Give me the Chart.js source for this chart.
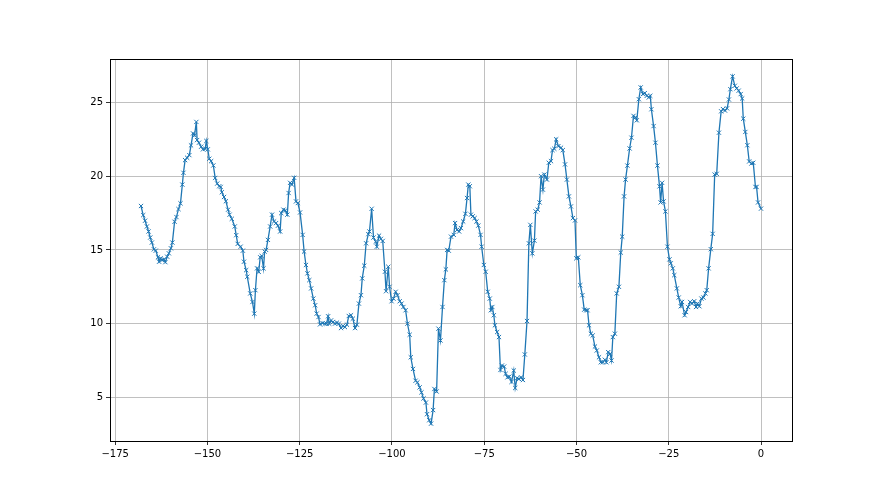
<!DOCTYPE html>
<html>
<head>
<meta charset="utf-8">
<script src="https://cdn.jsdelivr.net/npm/chart.js@4/dist/chart.umd.min.js"></script>
<style>
html,body{margin:0;padding:0;background:#fff;}
#wrap{width:880px;height:495px;}
</style>
</head>
<body>
<div id="wrap"><canvas id="c" width="880" height="495"></canvas></div>
<script>
const xValues = [
-168,-167.4,-166.9,-166.4,-165.95,-165.5,-165.05,-164.5,-164.0,-163.4,-163.1,-162.7,-162.35,-161.8,-161.4,-160.9,-160.45,-159.9,-159.5,-158.9,
-158.4,-157.85,-157.3,-156.8,-156.5,-156.05,-155.5,-154.9,-154.45,-153.9,-153.5,-153.0,-152.8,-152.3,-151.7,-151.2,-150.6,-150.3,-149.9,-149.5,
-149.0,-148.4,-147.9,-147.35,-146.8,-146.4,-146.1,-145.5,-145.0,-144.4,-144.0,-143.4,-142.6,-142.2,-141.8,-141.0,-140.4,-140.1,-139.5,-139.2,
-138.4,-137.8,-137.3,-137.0,-136.55,-136.1,-135.7,-135.3,-134.8,-134.5,-134.1,-133.6,-133.0,-132.5,-131.95,-131.4,-130.9,-130.3,-130.0,-129.4,
-128.9,-128.35,-128.0,-127.6,-127.1,-126.5,-126.0,-125.5,-124.9,-124.2,-123.8,-123.3,-122.9,-122.4,-121.9,-121.3,-120.8,-120.4,-119.9,-119.5,
-118.8,-118.2,-117.7,-117.3,-117.0,-116.5,-116.0,-115.45,-114.9,-114.4,-113.8,-113.3,-112.75,-112.2,-111.7,-111.1,-110.6,-110.0,-109.5,-108.95,
-108.4,-108.05,-107.5,-107.0,-106.4,-106.1,-105.5,-105.0,-104.4,-104.1,-103.5,-103.0,-102.5,-101.9,-101.6,-101.0,-100.65,-100.1,-99.6,-99.0,
-98.5,-97.9,-97.4,-96.9,-96.3,-95.8,-95.2,-94.9,-94.3,-93.6,-93.1,-92.5,-92.0,-91.45,-90.8,-90.5,-89.9,-89.4,-88.85,-88.5,
-87.9,-87.4,-86.85,-86.3,-85.8,-85.4,-85.05,-84.6,-84.0,-83.25,-82.9,-82.35,-81.8,-81.3,-80.7,-80.1,-79.65,-79.3,-78.9,-78.6,
-78.1,-77.6,-77.1,-76.6,-76.0,-75.7,-75.1,-74.6,-74.05,-73.5,-73.2,-72.8,-72.4,-72.1,-71.5,-71.0,-70.6,-70.2,-69.6,-69.2,
-68.7,-68.2,-67.6,-67.0,-66.6,-66.1,-65.6,-65.0,-64.5,-64.0,-63.4,-62.9,-62.5,-61.96,-61.4,-61.07,-60.5,-60.0,-59.6,-59.1,
-58.7,-58.0,-57.5,-56.9,-56.5,-56.0,-55.5,-54.9,-54.2,-53.7,-53.1,-52.6,-52.05,-51.5,-50.97,-50.4,-50.05,-49.5,-48.97,-48.4,
-47.9,-47.35,-47.0,-46.6,-46.1,-45.6,-45.0,-44.5,-43.9,-43.4,-42.85,-42.3,-41.9,-41.4,-40.9,-40.5,-40.15,-39.6,-39.1,-38.5,
-38.0,-37.6,-37.1,-36.7,-36.2,-35.6,-35.1,-34.55,-34.0,-33.65,-33.1,-32.6,-32.0,-31.5,-30.95,-30.4,-30.0,-29.7,-29.1,-28.6,
-28.06,-27.5,-27.2,-26.8,-26.4,-25.9,-25.35,-24.8,-24.45,-23.9,-23.5,-22.8,-22.3,-21.75,-21.4,-20.7,-20.3,-19.75,-19.2,-18.7,
-18.1,-17.6,-17.2,-16.7,-16.15,-15.6,-15.07,-14.7,-14.2,-13.6,-13.1,-12.55,-12.0,-11.4,-10.8,-10.3,-9.75,-9.2,-8.7,-8.3,
-7.7,-7.1,-6.6,-6.05,-5.5,-5.1,-4.8,-4.25,-3.7,-3.2,-2.6,-2.1,-1.5,-1.2,-0.8,0
];
const yValues = [
17.98,17.36,16.98,16.59,16.25,15.84,15.5,15.04,14.95,14.5,14.2,14.43,14.32,14.36,14.17,14.54,14.77,15.11,15.5,16.91,
17.23,17.77,18.16,19.43,20.23,21.09,21.25,21.43,22.09,22.9,22.77,23.68,22.45,22.27,22.0,21.82,21.86,22.39,21.82,21.18,
21.02,20.73,19.88,19.5,19.32,19.27,18.91,18.59,18.3,17.73,17.39,17.11,16.59,16.0,15.41,15.22,14.95,14.2,13.63,13.18,
12.05,11.47,10.68,12.27,13.75,13.52,14.5,14.59,13.75,14.89,15.0,15.68,16.59,17.39,16.93,16.82,16.64,16.25,17.5,17.73,
17.68,17.39,18.86,19.55,19.43,19.89,18.29,18.18,17.54,16.02,14.89,13.98,13.41,12.95,12.39,11.7,11.25,10.68,10.45,9.95,
10.04,10.0,10.0,10.5,10.0,10.22,10.11,10.0,10.07,10.0,9.7,9.84,9.77,9.93,10.52,10.57,10.34,9.7,9.93,11.36,
11.93,13.07,13.93,15.45,16.07,16.25,17.79,15.84,15.56,15.22,15.97,15.75,15.61,13.52,12.2,13.86,12.5,11.52,11.7,12.16,
11.93,11.52,11.36,11.13,10.91,10.0,9.25,7.72,6.93,6.13,6.02,5.68,5.34,4.93,4.65,3.86,3.45,3.22,4.14,5.57,
5.4,9.66,8.86,11.13,12.95,13.68,15.0,14.95,15.9,16.02,16.82,16.36,16.25,16.48,16.93,17.45,18.52,19.43,19.32,17.39,
17.28,17.16,16.93,16.65,16.02,15.22,13.98,13.52,12.16,11.7,10.91,11.13,10.57,9.89,9.43,9.09,6.86,7.16,7.09,6.6,
6.36,6.41,6.05,6.82,5.64,6.3,6.25,6.36,6.18,7.91,10.18,15.45,16.7,14.77,15.63,17.61,17.73,18.22,20.0,19.09,
20.11,19.77,20.91,21.02,21.77,21.86,22.5,22.04,21.93,21.77,20.8,19.77,18.63,17.95,17.16,17.0,14.43,14.5,12.61,11.93,
10.95,10.91,10.91,9.89,9.32,9.2,8.45,8.18,7.72,7.38,7.38,7.55,7.38,8.07,7.95,7.5,9.09,9.32,12.05,12.5,
14.82,15.9,18.63,19.77,20.72,21.88,22.61,24.09,23.98,23.79,25.22,26.02,25.57,25.63,25.45,25.34,25.45,24.54,23.4,22.27,
20.72,19.31,18.22,19.55,18.29,17.61,15.22,14.36,14.09,13.75,13.29,12.39,11.77,11.18,11.47,10.57,10.79,11.13,11.47,11.36,
11.52,11.13,11.36,11.18,11.7,11.77,12.05,12.27,13.75,15.05,16.09,20.11,20.16,22.95,24.4,24.55,24.45,24.6,25.2,25.9,
26.77,26.13,25.95,25.8,25.57,25.27,23.9,23.0,22.1,21.0,20.86,20.91,19.27,19.27,18.22,17.8
];
const xTicks = [-175, -150, -125, -100, -75, -50, -25, 0];
const yTicks = [5, 10, 15, 20, 25];

const points = xValues.map((x, i) => ({x: x, y: yValues[i]}));
const xmin = Math.min(...xValues), xmax = Math.max(...xValues);
const ymin = Math.min(...yValues), ymax = Math.max(...yValues);
const xpad = (xmax - xmin) * 0.05, ypad = (ymax - ymin) * 0.05;

const frame = {
  id: 'frame',
  afterDraw(chart) {
    const a = chart.chartArea, ctx = chart.ctx;
    ctx.save();
    ctx.strokeStyle = '#000';
    ctx.lineWidth = 1;
    ctx.strokeRect(Math.round(a.left) + 0.5, Math.round(a.top) + 0.5, Math.round(a.right - a.left), Math.round(a.bottom - a.top));
    ctx.restore();
  }
};

const fmt = v => (v < 0 ? '\u2212' + Math.abs(v) : String(v));

new Chart(document.getElementById('c'), {
  type: 'scatter',
  data: {
    datasets: [{
      data: points,
      showLine: true,
      borderColor: '#1f77b4',
      backgroundColor: '#1f77b4',
      borderWidth: 1.3,
      tension: 0,
      pointStyle: 'crossRot',
      pointRadius: 3,
      pointBorderWidth: 1,
      pointBorderColor: '#1f77b4',
      pointHoverRadius: 3
    }]
  },
  options: {
    responsive: false,
    animation: false,
    events: [],
    layout: { padding: { left: 0, right: 88, top: 59, bottom: 0 } },
    plugins: { legend: { display: false }, tooltip: { enabled: false } },
    scales: {
      x: {
        type: 'linear',
        min: xmin - xpad,
        max: xmax + xpad,
        afterFit: s => { s.height = 54; },
        afterBuildTicks: s => { s.ticks = xTicks.map(v => ({value: v})); },
        border: { display: false },
        grid: { color: '#b0b0b0', lineWidth: 0.8, tickColor: '#000', tickLength: 4, drawTicks: true },
        ticks: { color: '#000', font: { family: 'DejaVu Sans', size: 10 }, padding: 3, maxRotation: 0, callback: fmt }
      },
      y: {
        type: 'linear',
        min: ymin - ypad,
        max: ymax + ypad,
        afterFit: s => { s.width = 110; },
        afterBuildTicks: s => { s.ticks = yTicks.map(v => ({value: v})); },
        border: { display: false },
        grid: { color: '#b0b0b0', lineWidth: 0.8, tickColor: '#000', tickLength: 4, drawTicks: true },
        ticks: { color: '#000', font: { family: 'DejaVu Sans', size: 10 }, padding: 3, callback: fmt }
      }
    }
  },
  plugins: [frame]
});
</script>
</body>
</html>
